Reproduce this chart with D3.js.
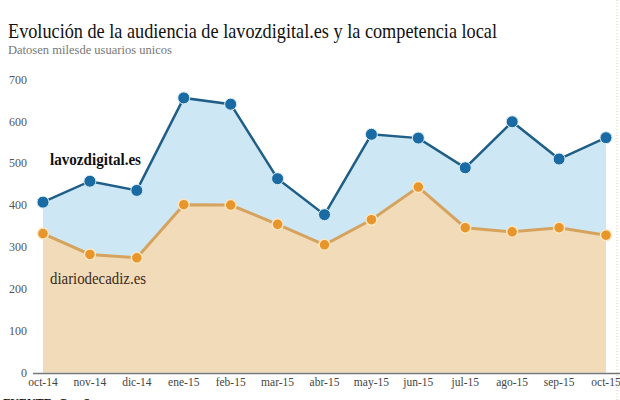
<!DOCTYPE html>
<html>
<head>
<meta charset="utf-8">
<script src="https://cdn.jsdelivr.net/npm/d3@7"></script>
<style>
  body { margin: 0; background: #fff; }
  svg { display: block; font-family: "Liberation Serif", "DejaVu Serif", serif; }
</style>
</head>
<body>
<svg class="svg_audiencia" width="620" height="400"></svg>
<script>
// audience data, thousands of unique users
var months = ["oct-14", "nov-14", "dic-14", "ene-15", "feb-15", "mar-15", "abr-15",
              "may-15", "jun-15", "jul-15", "ago-15", "sep-15", "oct-15"];
var lavozdigital = [407, 457, 435, 656, 641, 463, 377, 569, 560, 489, 599, 510, 561];
var diariodecadiz = [332, 282, 274, 401, 400, 354, 305, 365, 443, 346, 336, 346, 328];
var yTicks = [0, 100, 200, 300, 400, 500, 600, 700];

var chart = d3.select(".svg_audiencia");

var x = d3.scalePoint().domain(months).range([43, 606]),
    y = d3.scaleLinear().domain([0, 700]).range([372.5, 79.5]);

// titles, squeezed to the width of the original condensed face
chart.append("text")
    .attr("x", 8).attr("y", 38)
    .attr("font-size", 21).attr("fill", "#111")
    .attr("textLength", 489).attr("lengthAdjust", "spacingAndGlyphs")
    .text("Evolución de la audiencia de lavozdigital.es y la competencia local");
chart.append("text")
    .attr("x", 8).attr("y", 54)
    .attr("font-size", 12.5).attr("fill", "#777")
    .attr("textLength", 164).attr("lengthAdjust", "spacingAndGlyphs")
    .text("Datosen milesde usuarios unicos");

// dotted frame line on the right
chart.append("line")
    .attr("x1", 617).attr("x2", 617).attr("y1", 0).attr("y2", 400)
    .attr("stroke", "#d8d2a0").attr("stroke-width", 1).attr("stroke-dasharray", "1,2");

var areaGen = d3.area()
    .x(function(d, i) { return x(months[i]); })
    .y0(y(0))
    .y1(function(d) { return y(d); });

var lineGen = d3.line()
    .x(function(d, i) { return x(months[i]); })
    .y(function(d) { return y(d); });

chart.append("path").datum(lavozdigital)
    .attr("d", areaGen).attr("fill", "#cde7f5");
chart.append("path").datum(diariodecadiz)
    .attr("d", areaGen).attr("fill", "#f2dbb9");

// lines
chart.append("path").datum(diariodecadiz)
    .attr("d", lineGen).attr("fill", "none")
    .attr("stroke", "#d6a35e").attr("stroke-width", 3);
chart.append("path").datum(lavozdigital)
    .attr("d", lineGen).attr("fill", "none")
    .attr("stroke", "#1f5e86").attr("stroke-width", 2.5);

// dots
chart.append("g").selectAll("circle")
    .data(diariodecadiz).enter().append("circle")
    .attr("cx", function(d, i) { return x(months[i]); })
    .attr("cy", function(d) { return y(d); })
    .attr("r", 5.5)
    .attr("fill", "#e8952c").attr("stroke", "#fbe6c2").attr("stroke-width", 1.5);
chart.append("g").selectAll("circle")
    .data(lavozdigital).enter().append("circle")
    .attr("cx", function(d, i) { return x(months[i]); })
    .attr("cy", function(d) { return y(d); })
    .attr("r", 6)
    .attr("fill", "#1a6aa3").attr("stroke", "#d9eef8").attr("stroke-width", 1);

// series labels
chart.append("text")
    .attr("x", 50).attr("y", 165)
    .attr("font-size", 17).attr("font-weight", "bold").attr("fill", "#111")
    .attr("textLength", 91).attr("lengthAdjust", "spacingAndGlyphs")
    .text("lavozdigital.es");
chart.append("text")
    .attr("x", 50).attr("y", 284)
    .attr("font-size", 17).attr("fill", "#3a2a1c")
    .attr("textLength", 96).attr("lengthAdjust", "spacingAndGlyphs")
    .text("diariodecadiz.es");

// y axis labels
chart.append("g").selectAll("text")
    .data(yTicks).enter().append("text")
    .attr("x", 27)
    .attr("y", function(d) { return y(d); })
    .attr("dy", "0.35em")
    .attr("text-anchor", "end")
    .attr("font-size", 12).attr("fill", "#555")
    .text(function(d) { return d; });

// x axis
chart.append("line")
    .attr("x1", 33).attr("x2", 620).attr("y1", 373.5).attr("y2", 373.5)
    .attr("stroke", "#777").attr("stroke-width", 1.5);
chart.append("g").selectAll("text")
    .data(months).enter().append("text")
    .attr("x", function(d) { return x(d); })
    .attr("y", 386)
    .attr("text-anchor", "middle")
    .attr("font-size", 11.5).attr("fill", "#444")
    .text(function(d) { return d; });

// source line, cut by the frame as in the original
chart.append("text")
    .attr("x", 3).attr("y", 407)
    .attr("font-size", 12).attr("font-weight", "bold").attr("fill", "#111")
    .text("FUENTE: ComScore");
</script>
</body>
</html>
